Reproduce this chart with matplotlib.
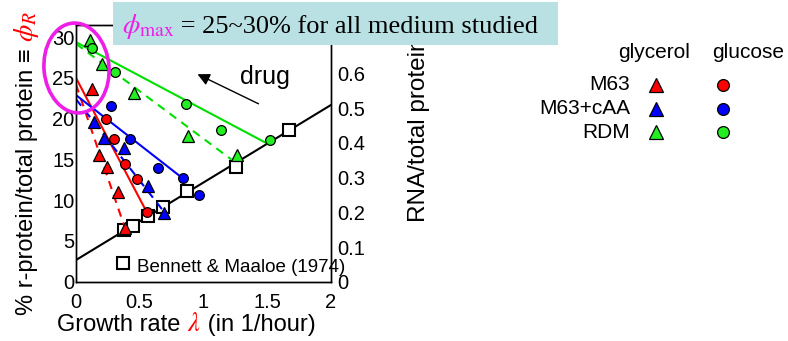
import matplotlib
matplotlib.use("Agg")
import matplotlib.pyplot as plt
from matplotlib.patches import Ellipse, Rectangle, FancyArrowPatch

plt.rcParams["font.family"] = ["Liberation Sans", "DejaVu Sans"]
plt.rcParams["mathtext.fontset"] = "stix"

W, H = 788, 341

# ---- axes ticks ----
x_ticks = [0, 0.5, 1, 1.5, 2]
x_tick_labels = ["0", "0.5", "1", "1.5", "2"]
left_ticks = [0, 5, 10, 15, 20, 25, 30]
right_ticks = [0, 0.1, 0.2, 0.3, 0.4, 0.5, 0.6]
right_tick_labels = ["0", "0.1", "0.2", "0.3", "0.4", "0.5", "0.6"]

# ---- r-protein fraction (%) vs growth rate (1/h) ----
# M63
red_gly_lam = [0.123, 0.183, 0.241, 0.329, 0.384]
red_gly_phi = [23.6, 15.6, 14.05, 11.05, 6.6]
red_glu_lam = [0.235, 0.300, 0.387, 0.478, 0.557]
red_glu_phi = [20.0, 17.5, 14.4, 12.6, 8.5]
# M63 + casamino acids
blue_gly_lam = [0.144, 0.222, 0.379, 0.562, 0.693]
blue_gly_phi = [19.6, 17.65, 16.4, 11.8, 8.46]
blue_glu_lam = [0.275, 0.426, 0.646, 0.840, 0.967]
blue_glu_phi = [21.5, 17.5, 14.0, 12.7, 10.6]
# rich defined medium
green_gly_lam = [0.110, 0.204, 0.452, 0.876, 1.263]
green_gly_phi = [29.6, 26.7, 23.1, 17.9, 15.6]
green_glu_lam = [0.125, 0.306, 0.860, 1.135, 1.527]
green_glu_phi = [28.7, 25.7, 21.8, 18.6, 17.4]

# linear fits (start / end)
red_gly_fit_lam, red_gly_fit_phi = [0, 0.384], [24.2, 6.6]
red_glu_fit_lam, red_glu_fit_phi = [0, 0.557], [25.0, 8.5]
blue_gly_fit_lam, blue_gly_fit_phi = [0, 0.69], [22.4, 8.6]
blue_glu_fit_lam, blue_glu_fit_phi = [0, 0.837], [22.9, 12.7]
green_gly_fit_lam, green_gly_fit_phi = [0, 1.22], [29.2, 15.0]
green_glu_fit_lam, green_glu_fit_phi = [0, 1.508], [29.4, 16.9]

# Bennett & Maaloe (1974): RNA/protein vs growth rate
bm_lam = [0.376, 0.450, 0.562, 0.680, 0.868, 1.260, 1.673]
bm_rna = [0.149, 0.161, 0.190, 0.214, 0.262, 0.330, 0.437]
bm_fit_lam, bm_fit_rna = [0, 2], [0.0625, 0.509]

RED, BLUE, GREEN = "#ff0000", "#0000ff", "#00e000"
GREEN_FACE = "#22ee22"
MAGENTA = "#ee1ee8"

fig = plt.figure(figsize=(W / 100, H / 100), dpi=100)
ax = fig.add_axes([76 / W, 1 - 281.7 / H, (330.7 - 76) / W, (281.7 - 25) / H])
ax2 = ax.twinx()
ax.set_zorder(ax2.get_zorder() + 1)
ax.patch.set_visible(False)

ax.set_xlim(0, 2)
ax.set_ylim(0, 31.5)
ax2.set_ylim(0, 0.74)
ax.set_xticks(x_ticks)
ax.set_xticklabels(x_tick_labels)
ax.set_yticks(left_ticks)
ax2.set_yticks(right_ticks)
ax2.set_yticklabels(right_tick_labels)
ax.tick_params(axis="x", length=0, pad=8, labelsize=14.5)
ax.tick_params(axis="y", length=0, pad=1, labelsize=14.5)
ax2.tick_params(axis="y", length=0, pad=5, labelsize=14.5)
for a in (ax, ax2):
    for s in a.spines.values():
        s.set_linewidth(1.0)

# Bennett & Maaloe
ax2.plot(bm_fit_lam, bm_fit_rna, color="black", lw=1.5, zorder=2)
ax2.plot(bm_lam, bm_rna, ls="none", marker="s", ms=9, mfc="white",
         mec="black", mew=1.5, zorder=3)

# fits
fits = [
    (red_gly_fit_lam, red_gly_fit_phi, RED, (0, (4, 3))),
    (red_glu_fit_lam, red_glu_fit_phi, RED, "-"),
    (blue_gly_fit_lam, blue_gly_fit_phi, BLUE, (0, (4, 3))),
    (blue_glu_fit_lam, blue_glu_fit_phi, BLUE, "-"),
    (green_gly_fit_lam, green_gly_fit_phi, GREEN, (0, (4, 3))),
    (green_glu_fit_lam, green_glu_fit_phi, GREEN, "-"),
]
for lx, ly, c, ls in fits:
    ax.plot(lx, ly, color=c, ls=ls, lw=1.5, zorder=2)

series = [
    (red_gly_lam, red_gly_phi, RED, "^"),
    (red_glu_lam, red_glu_phi, RED, "o"),
    (blue_gly_lam, blue_gly_phi, BLUE, "^"),
    (blue_glu_lam, blue_glu_phi, BLUE, "o"),
    (green_gly_lam, green_gly_phi, GREEN_FACE, "^"),
    (green_glu_lam, green_glu_phi, GREEN_FACE, "o"),
]
for sx, sy, c, m in series:
    ax.plot(sx, sy, ls="none", marker=m, ms=8.5 if m == "^" else 7,
            mfc=c, mec="black", mew=0.9, zorder=4)

# ---- overlay in pixel coordinates ----
ov = fig.add_axes([0, 0, 1, 1])
ov.set_xlim(0, W)
ov.set_ylim(H, 0)
ov.axis("off")
ov.set_zorder(10)
ov.patch.set_visible(False)

# legend
ov.text(654, 52, "glycerol", ha="center", va="center", fontsize=15)
ov.text(748, 52, "glucose", ha="center", va="center", fontsize=15)
leg_names = ["M63", "M63+cAA", "RDM"]
leg_cols = [RED, BLUE, GREEN_FACE]
leg_y = [85, 108.5, 132]
for name, c, yy in zip(leg_names, leg_cols, leg_y):
    ov.text(630, yy, name, ha="right", va="center", fontsize=15)
    ov.plot([656], [yy], marker="^", ms=10, mfc=c, mec="black", mew=0.9)
    ov.plot([723], [yy], marker="o", ms=8.5, mfc=c, mec="black", mew=0.9)

# Bennett legend entry
ov.plot([122.7], [262.7], marker="s", ms=9, mfc="white", mec="black", mew=1.5)
ov.text(137, 268, "Bennett & Maaloe (1974)", ha="left", va="center", fontsize=13.5)

# drug arrow
ov.add_patch(FancyArrowPatch((261, 105), (195, 73), arrowstyle="-|>",
                             mutation_scale=18, color="black", lw=1.0))
ov.text(265, 77, "drug", ha="center", va="center", fontsize=18)

# highlight ellipse
ov.add_patch(Ellipse((76.5, 68), 65, 90, angle=-5, fill=False,
                     edgecolor=MAGENTA, lw=2.6))

# title box
ov.add_patch(Rectangle((113, 2), 445, 43, facecolor="#b9e0e3",
                       edgecolor="none", zorder=5))

fig.canvas.draw()
renderer = fig.canvas.get_renderer()


def run_h(pieces, x0, y_base):
    """Place text pieces one after another along a common baseline."""
    x = x0
    for txt, kw in pieces:
        t = ov.text(x, y_base, txt, ha="left", va="baseline", zorder=6, **kw)
        bb = t.get_window_extent(renderer)
        x += bb.width


def run_v(pieces, x_base, y0):
    """Place rotated text pieces bottom-to-top along a common baseline."""
    y = y0
    for txt, kw in pieces:
        t = ov.text(x_base, y, txt, ha="left", va="baseline", rotation=90,
                    rotation_mode="anchor", zorder=6, **kw)
        bb = t.get_window_extent(renderer)
        y -= bb.height


run_h([(r"$\phi_{\mathrm{max}}$", dict(color=MAGENTA, fontsize=20)),
       (" = 25~30% for all medium studied",
        dict(color="black", fontsize=19, family="Liberation Serif"))],
      122, 33)

run_h([("Growth rate ", dict(fontsize=17)),
       (r"$\lambda$", dict(fontsize=19, color=RED)),
       (" (in 1/hour)", dict(fontsize=17))],
      57, 331)

run_v([("% r-protein/total protein \u2261 ", dict(fontsize=17)),
       (r"$\phi_R$", dict(fontsize=20, color=RED))],
      33, 315)

ov.text(425, 222, "RNA/total protein", ha="left", va="baseline", rotation=90,
        rotation_mode="anchor", fontsize=17.5, zorder=1)

fig.savefig("out.png", dpi=100)
